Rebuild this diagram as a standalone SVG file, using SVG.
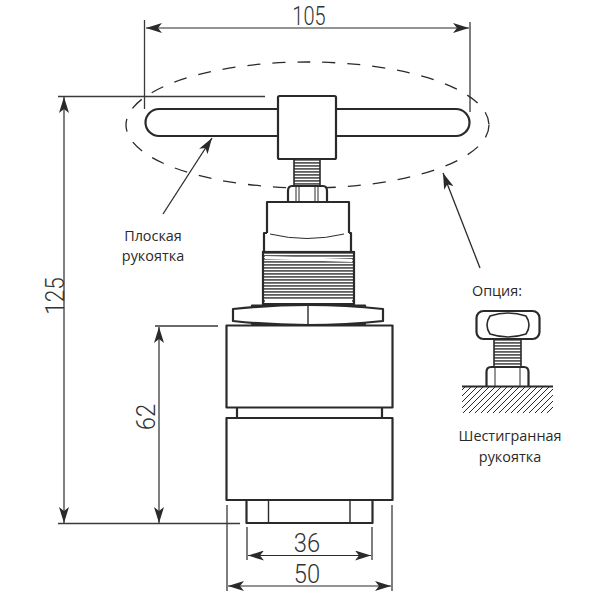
<svg xmlns="http://www.w3.org/2000/svg" width="600" height="600" viewBox="0 0 600 600">
<style>
.p{fill:#fff;stroke:#2b2a29;stroke-width:2.200;stroke-linejoin:round}
.h{fill:#fff;stroke:#2b2a29;stroke-width:1.600;stroke-linejoin:round}
.l{fill:none;stroke:#2b2a29;stroke-width:1.400}
.t{fill:none;stroke:#2b2a29;stroke-width:1}
.d{fill:none;stroke:#3a3a3a;stroke-width:1.300}
.a{fill:none;stroke:#2b2a29;stroke-width:1.200;marker-start:url(#ah);marker-end:url(#ah)}
.w{fill:none;stroke:#2b2a29;stroke-width:1.300;marker-start:url(#ah)}
.n{font-family:Roboto,"Liberation Sans",Arial,sans-serif;font-weight:300;font-size:25px;fill:#333;text-anchor:middle}
.c{font-family:"Open Sans","Noto Sans",sans-serif;font-size:14.400px;fill:#2b2a29;text-anchor:middle}
</style>
<defs>
<marker id="ah" viewBox="0 0 16 10" refX="16" refY="5" markerWidth="16" markerHeight="10" markerUnits="userSpaceOnUse" orient="auto-start-reverse"><path d="M16 5L0 0L4 5L0 10Z" fill="#2b2a29"/></marker>
<pattern id="th" width="6" height="3" patternUnits="userSpaceOnUse"><rect width="6" height="3" fill="#fff"/><rect width="6" height="1.800" fill="#5e5e5e"/></pattern>
<pattern id="ha" width="6" height="6" patternUnits="userSpaceOnUse"><path d="M-1 7L7 -1M-1 1L1 -1M5 7L7 5" stroke="#2b2a29" stroke-width="1"/></pattern>
</defs>
<g id="connectors">
<path class="d" d="M144.500 20V109M470 22V112M58 96.500H265M58 523.500H240M155 326H218M247 527V560M372 527V560M227 505V591M392 505V591"/>
<path class="a" d="M146 28H469"/>
<path class="a" d="M64 97V523"/>
<path class="a" d="M159 327V523"/>
<path class="a" d="M248 555.500H371"/>
<path class="a" d="M228 586H391"/>
<path class="w" d="M212 138L163 214"/>
<path class="w" d="M443 173L480 268"/>
<ellipse cx="307.500" cy="125" rx="181.500" ry="63" fill="none" stroke="#2b2a29" stroke-width="1.300" stroke-dasharray="13 12"/>
</g>
<g id="handle">
<rect class="p" x="145.500" y="109" width="324" height="27" rx="13.500"/>
<rect class="p" x="278" y="96" width="58" height="63" rx="1.500"/>
</g>
<g id="stem">
<rect x="294" y="159" width="26" height="27" fill="url(#th)" stroke="#2b2a29" stroke-width="1.600"/>
<path class="p" d="M288 202V191Q288 186 292 186H323Q327 186 327 191V202Z"/>
<path class="t" d="M296 187V202M318 187V202M299 187V202M315 187V202"/>
</g>
<g id="upper-body">
<rect class="p" x="267" y="202" width="82" height="50"/>
<path class="p" d="M267 233H264V252H351V233H349"/>
<path class="t" d="M270 234Q307 243 344 234"/>
<rect x="263" y="252" width="91" height="52" fill="url(#th)" stroke="#2b2a29" stroke-width="2.200"/>
<path d="M265 256L352 259L352 262L265 259Z" fill="#fff"/>
<rect x="265" y="299" width="87" height="4" fill="#fff"/>
</g>
<g id="flange">
<path class="p" d="M252 305.500H365V324H252Z"/>
<path class="p" d="M233 309Q308 301 383 309V321Q308 329 233 321Z"/>
<path class="l" d="M308 305V325"/>
</g>
<g id="lower-body">
<rect class="p" x="237" y="406" width="145" height="14"/>
<rect class="p" x="226.500" y="325.500" width="166" height="82"/>
<rect class="p" x="226.500" y="418" width="166" height="82"/>
<rect class="p" x="246.500" y="500" width="126" height="23"/>
<path class="l" d="M268.500 500V522M350 500V522"/>
</g>
<g id="hex-option">
<rect x="494" y="338" width="27" height="29" fill="url(#th)" stroke="#2b2a29" stroke-width="1.600"/>
<rect class="p" x="476.500" y="311" width="63" height="28" rx="7"/>
<path class="h" d="M490 316Q508 310 526 316Q532 325 526 334Q508 340 490 334Q484 325 490 316Z"/>
<path class="p" d="M486.500 386V372Q486.500 367 491 367H524Q528.500 367 528.500 372V386"/>
<path class="t" d="M495 368V386M520 368V386"/>
<rect x="462" y="387" width="91" height="26" fill="url(#ha)"/>
<path class="p" d="M462 386.500H553"/>
</g>
<g id="labels">
<text class="n" transform="translate(309 25) scale(0.8 1)">105</text>
<text class="n" transform="translate(307 552) scale(0.95 1)">36</text>
<text class="n" transform="translate(307 583) scale(0.95 1)">50</text>
<text class="n" transform="translate(63.500 296) rotate(-90) scale(0.9 1)">125</text>
<text class="n" transform="translate(155 417) rotate(-90) scale(0.95 1)">62</text>
<text class="c" x="153" y="241">Плоская</text>
<text class="c" x="153" y="261">рукоятка</text>
<text class="c" x="497" y="296">Опция:</text>
<text class="c" x="510" y="441">Шестигранная</text>
<text class="c" x="510" y="462">рукоятка</text>
</g>
</svg>
